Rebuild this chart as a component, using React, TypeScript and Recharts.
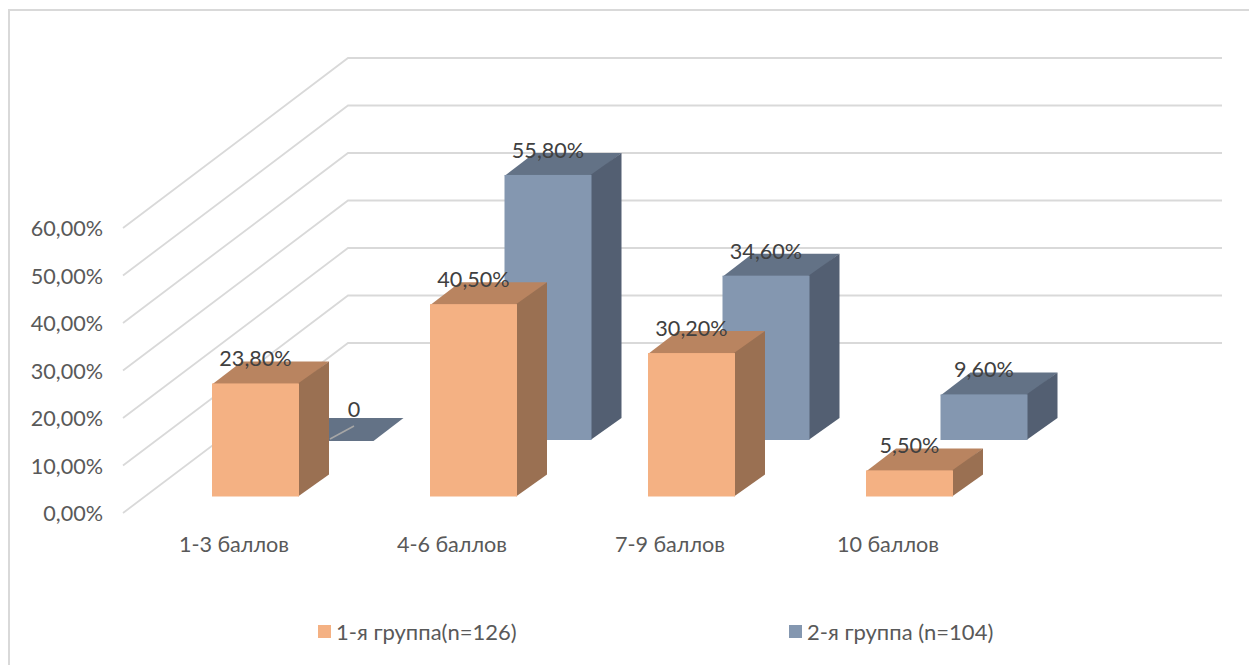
import React from 'react';
import { BarChart, Bar, XAxis, YAxis, Legend, LabelList, CartesianGrid } from 'recharts';

const categories = ['1-3 баллов', '4-6 баллов', '7-9 баллов', '10 баллов'];
const group1 = [23.8, 40.5, 30.2, 5.5];
const group2 = [0, 55.8, 34.6, 9.6];
const group1Name = '1-я группа(n=126)';
const group2Name = '2-я группа (n=104)';
const yTicks = [0, 10, 20, 30, 40, 50, 60];

const data = categories.map((c, i) => ({ category: c, g1: group1[i], g2: group2[i] }));

const FONT = 'Lato, "Noto Sans", sans-serif';
const FS = 21.6;
const W = 1249;
const H = 665;
const DEPTH_X = 30;
const DEPTH_Y = 22;
const WALL_X = 223;
const WALL_Y = 170;
const GRID_END = 1222;
const PLOT_LEFT = 125;

const FRONT = { fill: ['#F4B183', '#B98460', '#9A7052'], dx: 21, dy: -16.5 };
const BACK = { fill: ['#8497B0', '#637286', '#535F72'], dx: 95.5, dy: -73 };

const fmt = (v: number) => v.toFixed(2).replace('.', ',') + '%';
const fmtLabel = (v: number) => (v === 0 ? '0' : fmt(v));

function Box({ x, y, width, height, row }: any) {
  const l = x + row.dx;
  const r = l + width;
  const t = y + row.dy;
  const b = t + height;
  return (
    <g>
      <polygon points={`${l},${t + 1} ${r},${t + 1} ${r + DEPTH_X},${t - DEPTH_Y} ${l + DEPTH_X},${t - DEPTH_Y}`} fill={row.fill[1]} />
      {height > 0 && <polygon points={`${r - 1},${t} ${r + DEPTH_X},${t - DEPTH_Y} ${r + DEPTH_X},${b - DEPTH_Y} ${r - 1},${b}`} fill={row.fill[2]} />}
      {height > 0 && <rect x={l} y={t} width={width} height={height} fill={row.fill[0]} />}
    </g>
  );
}

function BoxLabel({ x, y, width, value, row }: any) {
  const cx = x + row.dx + width / 2;
  const t = y + row.dy;
  if (value === 0) {
    return (
      <g>
        <line x1={cx} y1={t - 1} x2={cx + 24} y2={t - 14} stroke="#A6A6A6" strokeWidth={1.5} />
        <text x={cx + 24} y={t - 31} textAnchor="middle" dominantBaseline="central" fontSize={FS} fontFamily={FONT} fill="#404040">0</text>
      </g>
    );
  }
  return (
    <text x={cx} y={t - 25} textAnchor="middle" dominantBaseline="central" fontSize={FS} fontFamily={FONT} fill="#404040">
      {fmtLabel(value)}
    </text>
  );
}

function WallLine({ y1 }: any) {
  return (
    <polyline
      points={`${PLOT_LEFT - 2},${y1} ${PLOT_LEFT + WALL_X},${y1 - WALL_Y} ${GRID_END},${y1 - WALL_Y}`}
      fill="none"
      stroke="#D9D9D9"
      strokeWidth={1.8}
    />
  );
}

function ValueTick({ y, payload }: any) {
  return (
    <text x={103} y={y} textAnchor="end" dominantBaseline="central" fontSize={FS} fontFamily={FONT} fill="#595959">
      {fmt(payload.value)}
    </text>
  );
}

function CategoryTick({ x, y, payload }: any) {
  return (
    <text x={x} y={y} textAnchor="middle" dominantBaseline="central" fontSize={FS} fontFamily={FONT} fill="#595959">
      {payload.value}
    </text>
  );
}

function LegendRow({ payload }: any) {
  const order = [group1Name, group2Name];
  const lefts = [318, 789];
  return (
    <div style={{ position: 'relative', height: 24, width: W }}>
      {(payload || []).map((p: any) => (
        <div key={p.value} style={{ position: 'absolute', left: lefts[order.indexOf(p.value)], top: 0, display: 'flex', alignItems: 'center', height: 24, fontFamily: FONT, fontSize: 22, color: '#595959', whiteSpace: 'nowrap' }}>
          <span style={{ display: 'inline-block', width: 13, height: 13, background: p.color, marginRight: 5 }} />
          {p.value}
        </div>
      ))}
    </div>
  );
}

export default function App() {
  return (
    <div style={{ position: 'absolute', left: 0, top: 0, width: W, height: H, overflow: 'hidden', background: '#fff' }}>
      <div style={{ position: 'absolute', left: 8, top: 9, width: W, height: H, borderLeft: '2px solid #D9D9D9', borderTop: '2px solid #D9D9D9' }} />
      <div style={{ position: 'absolute', left: 0, top: 0 }}>
        <BarChart width={W} height={H} data={data} barSize={87} margin={{ top: 228, right: 252, bottom: 92, left: 0 }}>
          <CartesianGrid vertical={false} horizontalValues={yTicks} horizontal={(p: any) => <WallLine key={p.key} {...p} />} />
          <XAxis xAxisId="front" dataKey="category" axisLine={false} tickLine={false} tickSize={0} tickMargin={1} tick={<CategoryTick />} interval={0} height={60} />
          <XAxis xAxisId="back" dataKey="category" hide />
          <YAxis type="number" domain={[0, 60]} ticks={yTicks} width={125} axisLine={false} tickLine={false} tick={<ValueTick />} interval={0} />
          <Legend verticalAlign="middle" content={<LegendRow />} wrapperStyle={{ position: 'absolute', left: 0, top: 619, width: W, height: 24 }} />
          <Bar xAxisId="back" dataKey="g2" name={group2Name} fill={BACK.fill[0]} isAnimationActive={false} legendType="square" shape={(p: any) => <Box {...p} row={BACK} />}>
            <LabelList dataKey="g2" content={(p: any) => <BoxLabel {...p} row={BACK} />} />
          </Bar>
          <Bar xAxisId="front" dataKey="g1" name={group1Name} fill={FRONT.fill[0]} isAnimationActive={false} legendType="square" shape={(p: any) => <Box {...p} row={FRONT} />}>
            <LabelList dataKey="g1" content={(p: any) => <BoxLabel {...p} row={FRONT} />} />
          </Bar>
        </BarChart>
      </div>
    </div>
  );
}
